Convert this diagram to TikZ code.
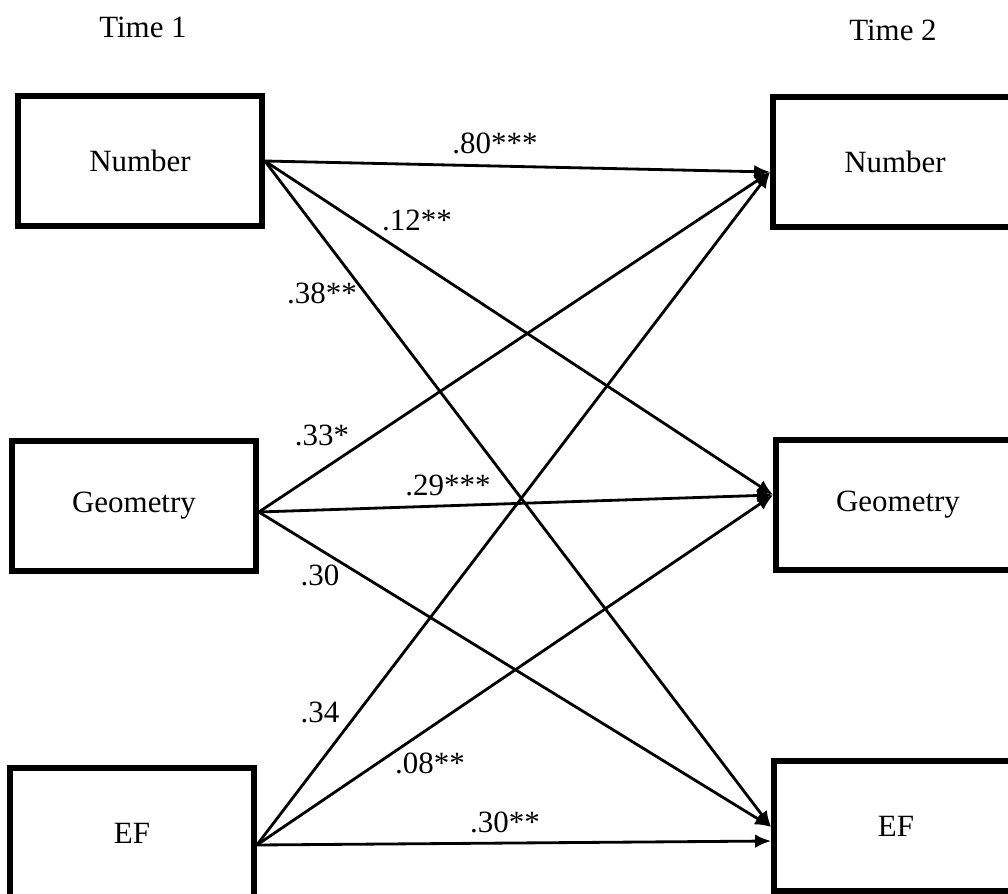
\documentclass[tikz,border=0pt]{standalone}
\usepackage{fontspec}
\setmainfont{Liberation Serif}
\usetikzlibrary{calc}
\usetikzlibrary{arrows.meta}
\tikzset{varbox/.style={draw, line width=4pt, minimum width=6.1cm, minimum height=3.25cm, inner sep=0pt, font=\fontsize{22}{26}\selectfont}}
\tikzset{coef/.style={inner sep=1pt, font=\fontsize{22}{26}\selectfont}}
\tikzset{effect/.style={line width=2pt, -{Latex[length=0.4cm,width=0.34cm]}}}
\newcommand{\varnode}[4]{\node[varbox] (#1) at ( #2 , #3 ) {#4};}
\newcommand{\coefnode}[4]{\node[coef] (#1) at ( #2 , #3 ) {#4};}

\begin{document}
\begin{tikzpicture}[x=0.025cm, y=-0.025cm]
        \useasboundingbox (0,0) rectangle (1008,894);
        % time labels
        \coefnode{timeA}{143}{27}{Time 1}
        \coefnode{timeB}{893}{30}{Time 2}
        % time 1
        \varnode{numA}{140}{161}{Number}
        \varnode{geoA}{134}{506}{Geometry}
        \varnode{efA}{132}{833}{EF}
        % time 2
        \varnode{numB}{895}{162}{Number}
        \varnode{geoB}{898}{505}{Geometry}
        \varnode{efB}{896}{826}{EF}

        % paths from number
        \draw[effect] (numA.east) -- ($(numB.west)+(0,10)$);
        \draw[effect] (numA.east) -- ($(geoB.west)+(0,-10)$);
        \draw[effect] (numA.east) -- ($(efB.west)+(0,1)$);
        % paths from geometry
        \draw[effect] ($(geoA.east)+(0,6)$) -- ($(numB.west)+(0,10)$);
        \draw[effect] ($(geoA.east)+(0,6)$) -- ($(geoB.west)+(0,-10)$);
        \draw[effect] ($(geoA.east)+(0,6)$) -- ($(efB.west)+(0,1)$);
        % paths from ef
        \draw[effect] ($(efA.east)+(0,12)$) -- ($(numB.west)+(0,10)$);
        \draw[effect] ($(efA.east)+(0,12)$) -- ($(geoB.west)+(0,-10)$);
        \draw[effect] ($(efA.east)+(0,12)$) -- ($(efB.west)+(0,15)$);

        % coefficients
        \coefnode{cNN}{495}{143}{.80***}
        \coefnode{cNG}{417}{220}{.12**}
        \coefnode{cNE}{322}{293}{.38**}
        \coefnode{cGN}{322}{435}{.33*}
        \coefnode{cGG}{448}{485}{.29***}
        \coefnode{cGE}{320}{575}{.30}
        \coefnode{cEN}{320}{712}{.34}
        \coefnode{cEG}{430}{763}{.08**}
        \coefnode{cEE}{505}{822}{.30**}
\end{tikzpicture}
\end{document}
